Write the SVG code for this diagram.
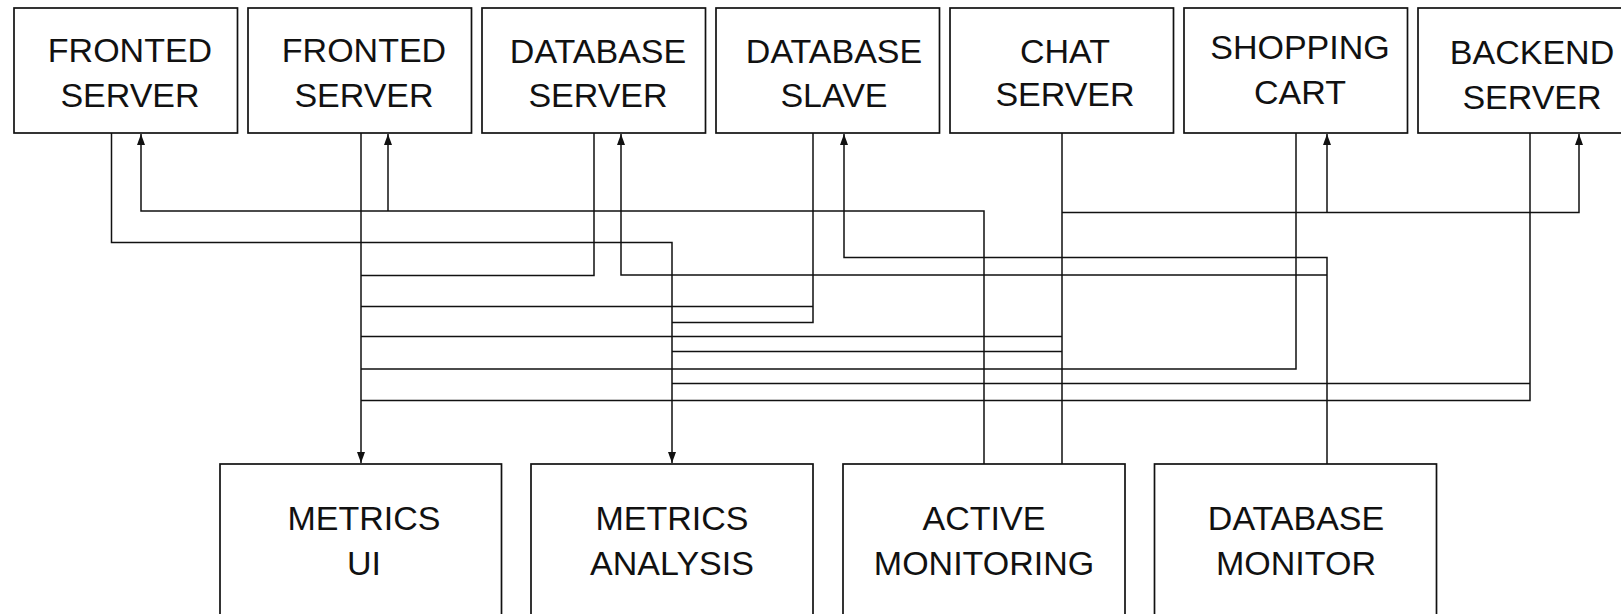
<svg xmlns="http://www.w3.org/2000/svg" width="1621" height="614" viewBox="0 0 1621 614">
<defs>
<style>
.box{fill:#fff;stroke:#111;stroke-width:1.7}
.lbl{font-family:"Liberation Sans",Arial,sans-serif;font-size:34px;fill:#111;text-anchor:middle}
.c{fill:none;stroke:#111;stroke-width:1.5}
.a{fill:none;stroke:#111;stroke-width:1.5;marker-end:url(#arr)}
</style>
<marker id="arr" viewBox="0 0 11 8" refX="11" refY="4" markerWidth="11" markerHeight="8" orient="auto" markerUnits="userSpaceOnUse">
<path d="M0,0 L11,4 L0,8 Z" fill="#111"/>
</marker>
</defs>
<rect width="1621" height="614" fill="#fff"/>
<g id="connectors">
<path class="a" d="M111.5 133 V242.5 H672 V463"/>
<path class="a" d="M361 133 V463"/>
<path class="c" d="M594 133 V275.5 H361"/>
<path class="c" d="M813 133 V322.5 H672 M813 306.5 H361"/>
<path class="c" d="M1062 133 V464 M1062 336.5 H361 M1062 351.5 H672"/>
<path class="c" d="M1296 133 V369 H361"/>
<path class="c" d="M1530 133 V400.5 H361 M1530 383.5 H672"/>
<path class="a" d="M984 464 V211 H141 V134"/>
<path class="a" d="M388 211 V134"/>
<path class="a" d="M1327 275 H621 V134"/>
<path class="a" d="M1327 464 V257.5 H844 V134"/>
<path class="a" d="M1062 212.5 H1579 V134"/>
<path class="a" d="M1327 212.5 V134"/>
</g>
<g id="frontend1"><rect class="box" x="14" y="8" width="223.5" height="125"/><text class="lbl" x="130" y="62">FRONTED</text><text class="lbl" x="130" y="107">SERVER</text></g>
<g id="frontend2"><rect class="box" x="248" y="8" width="223.5" height="125"/><text class="lbl" x="364" y="62">FRONTED</text><text class="lbl" x="364" y="107">SERVER</text></g>
<g id="dbserver"><rect class="box" x="482" y="8" width="223.5" height="125"/><text class="lbl" x="598" y="63">DATABASE</text><text class="lbl" x="598" y="107">SERVER</text></g>
<g id="dbslave"><rect class="box" x="716" y="8" width="223.5" height="125"/><text class="lbl" x="834" y="63">DATABASE</text><text class="lbl" x="834" y="107">SLAVE</text></g>
<g id="chat"><rect class="box" x="950" y="8" width="223.5" height="125"/><text class="lbl" x="1065" y="63">CHAT</text><text class="lbl" x="1065" y="106">SERVER</text></g>
<g id="cart"><rect class="box" x="1184" y="8" width="223.5" height="125"/><text class="lbl" x="1300" y="59">SHOPPING</text><text class="lbl" x="1300" y="104">CART</text></g>
<g id="backend"><rect class="box" x="1418" y="8" width="223.5" height="125"/><text class="lbl" x="1532" y="64">BACKEND</text><text class="lbl" x="1532" y="109">SERVER</text></g>
<g id="metricsui"><rect class="box" x="220" y="464" width="281.5" height="170"/><text class="lbl" x="364" y="530">METRICS</text><text class="lbl" x="364" y="575">UI</text></g>
<g id="metricsanalysis"><rect class="box" x="531" y="464" width="282" height="170"/><text class="lbl" x="672" y="530">METRICS</text><text class="lbl" x="672" y="575">ANALYSIS</text></g>
<g id="activemonitoring"><rect class="box" x="843" y="464" width="282" height="170"/><text class="lbl" x="984" y="530">ACTIVE</text><text class="lbl" x="984" y="575">MONITORING</text></g>
<g id="dbmonitor"><rect class="box" x="1154.5" y="464" width="282" height="170"/><text class="lbl" x="1296" y="530">DATABASE</text><text class="lbl" x="1296" y="575">MONITOR</text></g>
</svg>
